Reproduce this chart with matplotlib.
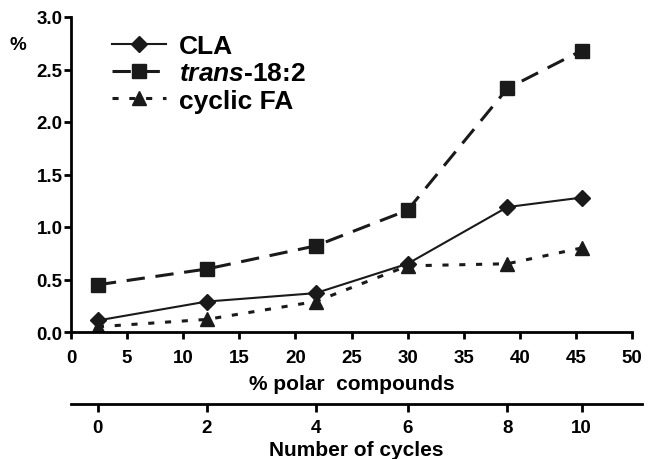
import matplotlib
matplotlib.use("Agg")
import matplotlib.pyplot as plt

plt.rcParams['font.family'] = ['Liberation Sans', 'DejaVu Sans']
plt.rcParams['font.weight'] = 'bold'
plt.rcParams['mathtext.fontset'] = 'custom'
plt.rcParams['mathtext.it'] = 'Liberation Sans:italic:bold'
plt.rcParams['mathtext.rm'] = 'Liberation Sans:bold'

# data
polar = [2.4, 12.1, 21.8, 30.0, 38.9, 45.5]
cycles = [0, 2, 4, 6, 8, 10]
cla = [0.11, 0.29, 0.37, 0.65, 1.19, 1.28]
trans = [0.45, 0.60, 0.82, 1.16, 2.32, 2.68]
cyclic = [0.05, 0.12, 0.29, 0.63, 0.65, 0.80]

fig = plt.figure(figsize=(6.48, 4.6), dpi=100)
left, width = 71 / 648, 561 / 648
ax = fig.add_axes([left, 1 - 333 / 460, width, (333 - 18) / 460])

ax.plot(polar, cla, '-', color='#1a1a1a', lw=1.5, marker='D', ms=8, label='CLA')
ax.plot(polar, trans, '--', color='#1a1a1a', lw=2.2, dashes=(6, 3.5), marker='s', ms=10,
        label=r'$\mathit{trans}$-18:2')
ax.plot(polar, cyclic, ':', color='#1a1a1a', lw=2.2, dashes=(2, 3.5), marker='^', ms=10,
        label='cyclic FA')

ax.set_xlim(0, 50)
ax.set_ylim(0, 3.0)
ax.set_xticks(range(0, 51, 5))
ax.set_yticks([0, 0.5, 1.0, 1.5, 2.0, 2.5, 3.0])
ax.set_yticklabels(['0.0', '0.5', '1.0', '1.5', '2.0', '2.5', '3.0'])
for s in ['top', 'right']:
    ax.spines[s].set_visible(False)
for s in ['left', 'bottom']:
    ax.spines[s].set_linewidth(2)
ax.tick_params(axis='both', labelsize=13.5, width=2, length=5)
ax.tick_params(axis='y', pad=1)
ax.tick_params(axis='x', pad=7)
ax.set_xlabel('% polar  compounds', fontsize=15, fontweight='bold', labelpad=6)
fig.text(18 / 648, 1 - 45 / 460, '%', fontsize=13.5, fontweight='bold', ha='center', va='center')

leg = ax.legend(loc='upper left', bbox_to_anchor=(0.073, 0.945), frameon=False,
                borderaxespad=0, borderpad=0,
                fontsize=19, handlelength=2.05, handletextpad=0.5, labelspacing=0.12)

# second axis: number of cycles
ext = (642 - 71) / 561
ax2 = fig.add_axes([left, 1 - 405 / 460, width * ext, 0.0001])
ax2.set_xlim(0, 50 * ext)
ax2.set_ylim(0, 1)
ax2.set_yticks([])
for s in ['top', 'right', 'left']:
    ax2.spines[s].set_visible(False)
ax2.spines['bottom'].set_linewidth(2)
ax2.set_xticks(polar)
ax2.set_xticklabels([str(c) for c in cycles])
ax2.tick_params(axis='x', direction='out', labelsize=13.5, width=2, length=6, pad=5)
ax2.set_xlabel('Number of cycles', fontsize=15, fontweight='bold', labelpad=3)

fig.savefig('out.png', dpi=100)
